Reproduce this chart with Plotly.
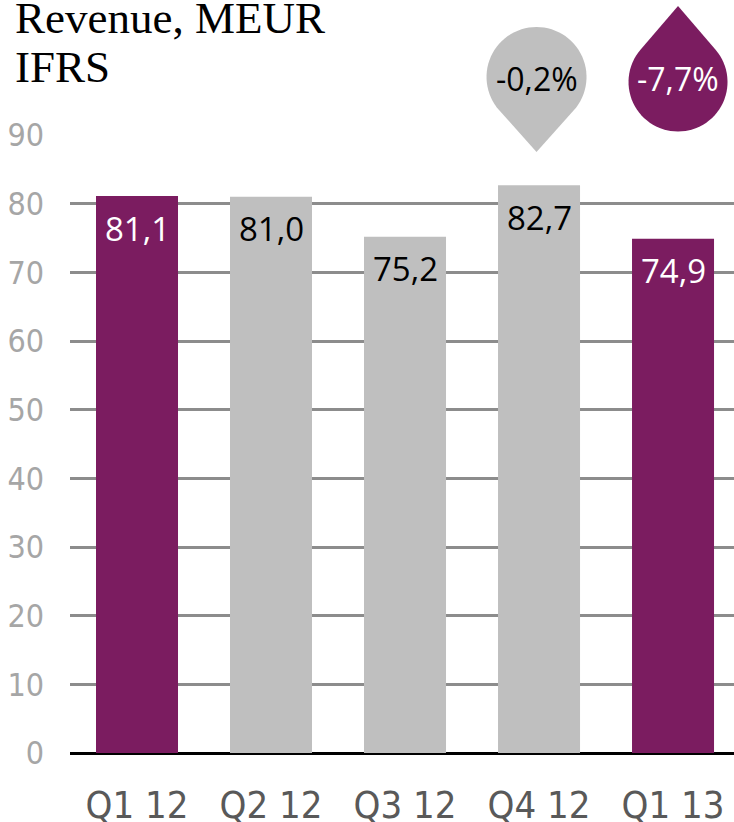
import math
import plotly.graph_objects as go

categories = ["Q1 12", "Q2 12", "Q3 12", "Q4 12", "Q1 13"]
revenue = [81.1, 81.0, 75.2, 82.7, 74.9]
label_texts = ["81,1", "81,0", "75,2", "82,7", "74,9"]
highlight = [True, False, False, False, True]
y_ticks = [0, 10, 20, 30, 40, 50, 60, 70, 80, 90]
change_labels = ["-0,2%", "-7,7%"]
change_categories = [3, 4]

PURPLE = "#7B1C60"
GREY = "#BFBFBF"
COND = "DejaVu Sans Condensed, Roboto Condensed, Roboto, sans-serif"

colors = [PURPLE if h else GREY for h in highlight]
text_colors = ["white" if h else "black" for h in highlight]

W, H = 734, 822
ML, MR, MT, MB = 70, 0, 135, 69
XR = [-0.5, 4.455]

fig = go.Figure()
fig.add_trace(go.Bar(
    x=list(range(len(categories))),
    y=revenue,
    marker=dict(color=colors, line=dict(width=0)),
    hoverinfo="skip",
))

for i, (v, t, c) in enumerate(zip(revenue, label_texts, text_colors)):
    fig.add_annotation(x=i, y=v, xref="x", yref="y", text=t, showarrow=False,
                       yanchor="middle", yshift=-32,
                       font=dict(family="Open Sans", size=33, color=c))


def drop_path(r, d, up):
    s = 1 if up else -1
    base = 90 if up else -90
    a = math.degrees(math.acos(r / d))
    start = base + a
    end = base - a + 360
    pts = [(0, s * d)]
    n = 60
    for k in range(n + 1):
        ang = math.radians(start + (end - start) * k / n)
        pts.append((r * math.cos(ang), r * math.sin(ang)))
    p = "M {:.2f},{:.2f}".format(*pts[0])
    for x, y in pts[1:]:
        p += " L {:.2f},{:.2f}".format(x, y)
    return p + " Z"


plot_w = W - ML - MR
plot_h = H - MT - MB


def cat_to_paper(i):
    return (i - XR[0]) / (XR[1] - XR[0])


drops = [
    dict(cat=change_categories[0], dx=-2.5, cy=77, r=50, d=75, up=False, fill=GREY, tc="black"),
    dict(cat=change_categories[1], dx=5, cy=82, r=49.5, d=76, up=True, fill=PURPLE, tc="white"),
]
for dr, lab in zip(drops, change_labels):
    xp = cat_to_paper(dr["cat"]) + dr["dx"] / plot_w
    yp = (H - MB - dr["cy"]) / plot_h
    fig.add_shape(type="path", xref="paper", yref="paper",
                  xsizemode="pixel", ysizemode="pixel",
                  xanchor=xp, yanchor=yp,
                  path=drop_path(dr["r"], dr["d"], dr["up"]),
                  fillcolor=dr["fill"], line=dict(width=0), layer="above")
    fig.add_annotation(x=xp, y=(H - MB - 79) / plot_h, xref="paper", yref="paper",
                       text=lab, showarrow=False, xanchor="center", yanchor="middle",
                       font=dict(family="Open Sans", size=32, color=dr["tc"]))

for txt, base in (("Revenue, MEUR", 34), ("IFRS", 83)):
    fig.add_annotation(x=(13 - ML) / plot_w, y=(H - MB - base) / plot_h, xref="paper", yref="paper",
                       text=txt, showarrow=False, xanchor="left", yanchor="bottom",
                       font=dict(family="Liberation Serif", size=45, color="black"), yshift=-11)

fig.update_layout(
    width=W, height=H,
    margin=dict(l=ML, r=MR, t=MT, b=MB, pad=0, autoexpand=False),
    plot_bgcolor="white", paper_bgcolor="white",
    bargap=0.388,
    showlegend=False,
    xaxis=dict(range=XR, tickmode="array", tickvals=list(range(len(categories))),
               ticktext=categories, showgrid=False, zeroline=False, showline=False,
               ticks="", ticklabelstandoff=26, automargin=False,
               tickfont=dict(family=COND, size=38, color="#595959")),
    yaxis=dict(range=[0, 90], tickmode="array", tickvals=y_ticks,
               showgrid=True, gridcolor="#8C8C8C", gridwidth=2.5,
               zeroline=True, zerolinecolor="black", zerolinewidth=2.5,
               showline=False, ticks="", ticklabelstandoff=25, automargin=False,
               tickfont=dict(family=COND, size=32, color="#A6A6A6")),
)

fig.write_html("out.html", config={"displayModeBar": False},
               post_script="document.body.style.margin='0';document.body.style.overflow='hidden';")
